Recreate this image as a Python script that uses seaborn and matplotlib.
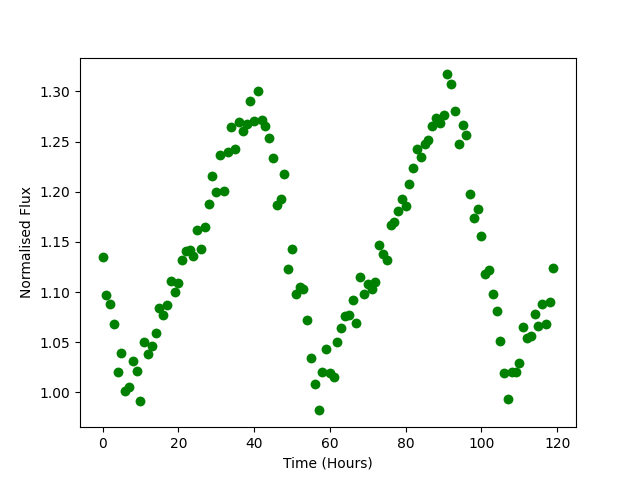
import numpy as np
import pandas as pd
import matplotlib
matplotlib.use('Agg')
import matplotlib.pyplot as plt
import seaborn as sns

# hourly samples
hours = list(range(120))
flux = [1.135, 1.097, 1.088, 1.068, 1.020, 1.039, 1.001, 1.005, 1.031, 1.021,
        0.991, 1.050, 1.038, 1.046, 1.059, 1.084, 1.077, 1.087, 1.111, 1.100,
        1.109, 1.132, 1.141, 1.142, 1.136, 1.162, 1.143, 1.165, 1.188, 1.216,
        1.200, 1.237, 1.201, 1.240, 1.265, 1.243, 1.270, 1.261, 1.268, 1.290,
        1.271, 1.300, 1.272, 1.266, 1.254, 1.234, 1.187, 1.193, 1.218, 1.123,
        1.143, 1.098, 1.105, 1.103, 1.072, 1.034, 1.008, 0.982, 1.020, 1.043,
        1.019, 1.015, 1.050, 1.064, 1.076, 1.077, 1.092, 1.069, 1.115, 1.098,
        1.108, 1.103, 1.110, 1.147, 1.138, 1.132, 1.167, 1.170, 1.181, 1.193,
        1.186, 1.208, 1.224, 1.243, 1.235, 1.248, 1.252, 1.266, 1.274, 1.269,
        1.277, 1.317, 1.307, 1.281, 1.248, 1.267, 1.257, 1.198, 1.174, 1.183,
        1.156, 1.118, 1.122, 1.098, 1.081, 1.051, 1.019, 0.993, 1.020, 1.020,
        1.029, 1.065, 1.054, 1.056, 1.078, 1.066, 1.088, 1.068, 1.090, 1.124]

df = pd.DataFrame({'hours': hours, 'flux': flux})

fig, ax = plt.subplots(figsize=(6.4, 4.8), dpi=100)
sns.scatterplot(x='hours', y='flux', data=df, color='green', s=50,
                linewidth=0, ax=ax)
ax.set_xlabel('Time (Hours)')
ax.set_ylabel('Normalised Flux')
plt.savefig('out.png', dpi=100)
